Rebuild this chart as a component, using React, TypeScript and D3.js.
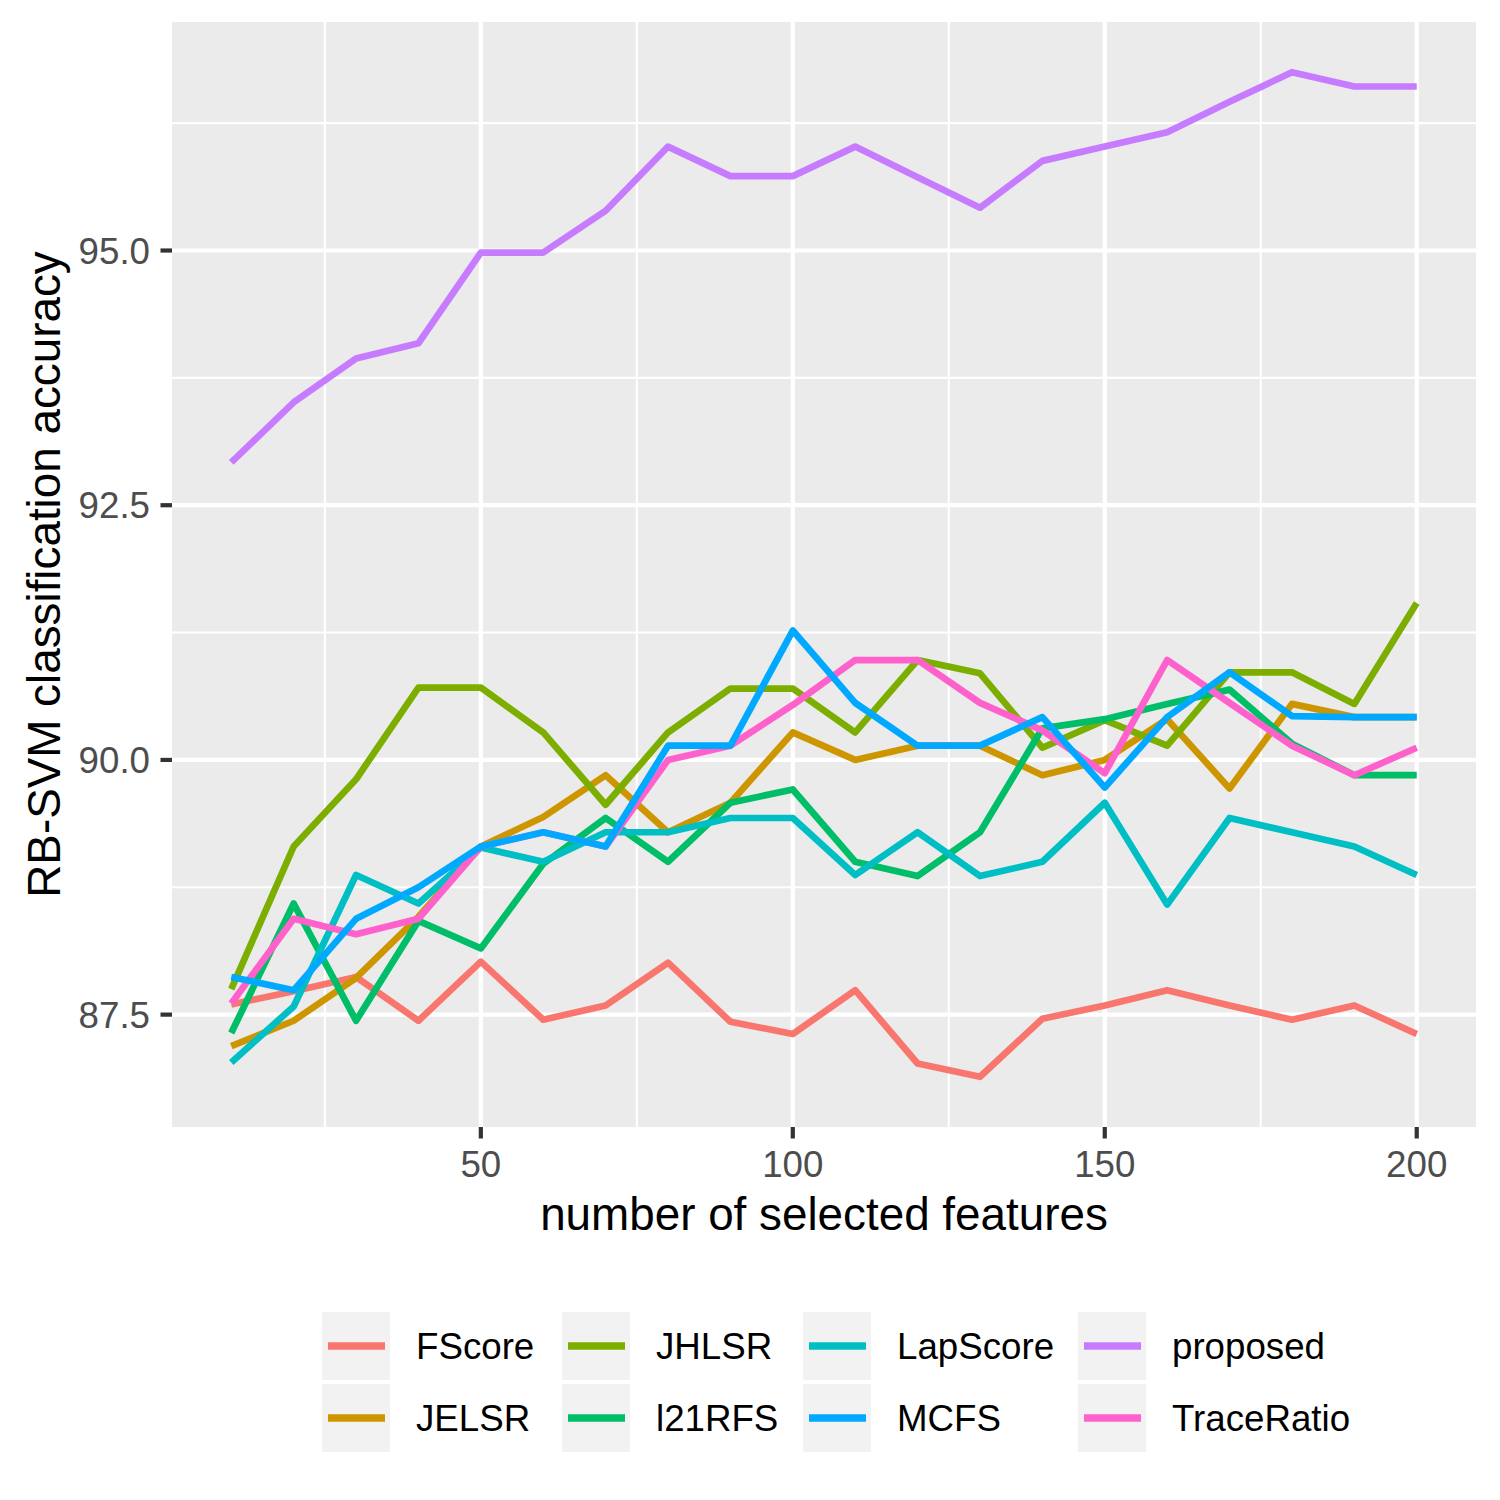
import React from 'react';
import * as d3 from 'd3';

// number of selected features
const features = [10, 20, 30, 40, 50, 60, 70, 80, 90, 100, 110, 120, 130, 140, 150, 160, 170, 180, 190, 200];

const fscore = [87.6, 87.73, 87.87, 87.44, 88.02, 87.45, 87.59, 88.01, 87.43, 87.31, 87.74, 87.02, 86.89, 87.46, 87.59, 87.74, 87.59, 87.45, 87.59, 87.31];
const jelsr = [87.19, 87.44, 87.86, 88.46, 89.15, 89.44, 89.85, 89.29, 89.58, 90.27, 90.0, 90.14, 90.14, 89.85, 90.0, 90.4, 89.72, 90.55, 90.42, 90.42];
const jhlsr = [87.75, 89.15, 89.81, 90.71, 90.71, 90.27, 89.56, 90.27, 90.7, 90.7, 90.27, 90.98, 90.85, 90.12, 90.39, 90.14, 90.86, 90.86, 90.55, 91.54];
const l21rfs = [87.32, 88.59, 87.44, 88.42, 88.15, 88.98, 89.43, 89.0, 89.58, 89.71, 89.0, 88.86, 89.29, 90.31, 90.4, 90.55, 90.69, 90.16, 89.85, 89.85];
const lapscore = [87.03, 87.58, 88.87, 88.59, 89.14, 89.0, 89.29, 89.29, 89.43, 89.43, 88.87, 89.29, 88.86, 89.0, 89.58, 88.58, 89.43, 89.29, 89.15, 88.87];
const mcfs = [87.87, 87.74, 88.44, 88.75, 89.15, 89.29, 89.15, 90.14, 90.14, 91.27, 90.56, 90.14, 90.14, 90.42, 89.73, 90.42, 90.86, 90.43, 90.42, 90.42];
const proposed = [92.92, 93.51, 93.94, 94.09, 94.98, 94.98, 95.39, 96.02, 95.73, 95.73, 96.02, 95.72, 95.42, 95.88, 96.02, 96.16, 96.46, 96.75, 96.61, 96.61];
const traceRatio = [87.61, 88.44, 88.29, 88.44, 89.15, 89.29, 89.15, 90.0, 90.14, 90.54, 90.98, 90.98, 90.56, 90.29, 89.87, 90.98, 90.56, 90.14, 89.85, 90.12];

// legend order (alphabetical levels) and default ggplot hues
const methods = ['FScore', 'JELSR', 'JHLSR', 'l21RFS', 'LapScore', 'MCFS', 'proposed', 'TraceRatio'];
const colors = ['#F8766D', '#CD9600', '#7CAE00', '#00BE67', '#00BFC4', '#00A9FF', '#C77CFF', '#FF61CC'];
const values = [fscore, jelsr, jhlsr, l21rfs, lapscore, mcfs, proposed, traceRatio];
// the lines are stacked with MCFS on top
const drawOrder = ['FScore', 'JELSR', 'JHLSR', 'l21RFS', 'LapScore', 'proposed', 'TraceRatio', 'MCFS'];

const xTicks = [50, 100, 150, 200];
const xMinor = [25, 75, 125, 175];
const yTicks = [87.5, 90.0, 92.5, 95.0];
const yMinor = [88.75, 91.25, 93.75, 96.25];

const W = 1500;
const H = 1500;
const panel = { left: 172, right: 1476, top: 22, bottom: 1127 };
const font = '"Liberation Sans", Arial, sans-serif';

// ggplot-style 5% expansion
const expand = (lo: number, hi: number): [number, number] => {
	const pad = (hi - lo) * 0.05;
	return [lo - pad, hi + pad];
};

const App: React.FC = () => {
	const all = values.flat();
	const x = d3
		.scaleLinear()
		.domain(expand(d3.min(features) as number, d3.max(features) as number))
		.range([panel.left, panel.right]);
	const y = d3
		.scaleLinear()
		.domain(expand(d3.min(all) as number, d3.max(all) as number))
		.range([panel.bottom, panel.top]);

	const line = d3
		.line<number>()
		.x((_, i) => x(features[i]))
		.y((d) => y(d));

	const legendLine = d3.line<number>();

	// legend in 2 rows, filled by column
	const keyX = [322, 562, 803, 1078];
	const keyY = [1312, 1384];
	const keySize = 68;

	return (
		<svg
			width={W}
			height={H}
			style={{ position: 'absolute', left: 0, top: 0, background: '#fff' }}
			fontFamily={font}
		>
			<rect
				x={panel.left}
				y={panel.top}
				width={panel.right - panel.left}
				height={panel.bottom - panel.top}
				fill="#EBEBEB"
			/>
			{/* minor grid */}
			{yMinor.map((t) => (
				<line key={'ym' + t} x1={panel.left} x2={panel.right} y1={y(t)} y2={y(t)} stroke="#fff" strokeWidth={2.1} />
			))}
			{xMinor.map((t) => (
				<line key={'xm' + t} x1={x(t)} x2={x(t)} y1={panel.top} y2={panel.bottom} stroke="#fff" strokeWidth={2.1} />
			))}
			{/* major grid */}
			{yTicks.map((t) => (
				<line key={'yg' + t} x1={panel.left} x2={panel.right} y1={y(t)} y2={y(t)} stroke="#fff" strokeWidth={4.2} />
			))}
			{xTicks.map((t) => (
				<line key={'xg' + t} x1={x(t)} x2={x(t)} y1={panel.top} y2={panel.bottom} stroke="#fff" strokeWidth={4.2} />
			))}

			{/* series */}
			{drawOrder.map((name) => {
				const i = methods.indexOf(name);
				return (
					<path
						key={name}
						d={line(values[i]) as string}
						fill="none"
						stroke={colors[i]}
						strokeWidth={6.7}
						strokeLinejoin="round"
					/>
				);
			})}

			{/* y axis */}
			{yTicks.map((t) => (
				<g key={'yt' + t}>
					<line x1={panel.left - 11.5} x2={panel.left} y1={y(t)} y2={y(t)} stroke="#333333" strokeWidth={4.2} />
					<text
						x={panel.left - 22}
						y={y(t)}
						dy="0.36em"
						textAnchor="end"
						fontSize={36.7}
						fill="#4D4D4D"
					>
						{t.toFixed(1)}
					</text>
				</g>
			))}
			{/* x axis */}
			{xTicks.map((t) => (
				<g key={'xt' + t}>
					<line x1={x(t)} x2={x(t)} y1={panel.bottom} y2={panel.bottom + 11.5} stroke="#333333" strokeWidth={4.2} />
					<text x={x(t)} y={panel.bottom + 50} textAnchor="middle" fontSize={36.7} fill="#4D4D4D">
						{t}
					</text>
				</g>
			))}

			<text
				x={(panel.left + panel.right) / 2}
				y={1230}
				textAnchor="middle"
				fontSize={45.8}
				fill="#000"
			>
				number of selected features
			</text>
			<text
				transform={`translate(60, ${(panel.top + panel.bottom) / 2}) rotate(-90)`}
				textAnchor="middle"
				fontSize={45.8}
				fill="#000"
			>
				RB-SVM classification accuracy
			</text>

			{/* legend */}
			{methods.map((name, i) => {
				const col = Math.floor(i / 2);
				const row = i % 2;
				const kx = keyX[col];
				const ky = keyY[row];
				const cy = ky + keySize / 2;
				return (
					<g key={'lg' + name}>
						<rect x={kx} y={ky} width={keySize} height={keySize} fill="#F2F2F2" />
						<path
							d={legendLine([
								[kx + 6, cy],
								[kx + keySize - 5, cy],
							] as any) as string}
							stroke={colors[i]}
							strokeWidth={7.5}
							fill="none"
						/>
						<text x={kx + 94} y={cy} dy="0.36em" fontSize={36.7} fill="#000">
							{name}
						</text>
					</g>
				);
			})}
		</svg>
	);
};

export default App;
